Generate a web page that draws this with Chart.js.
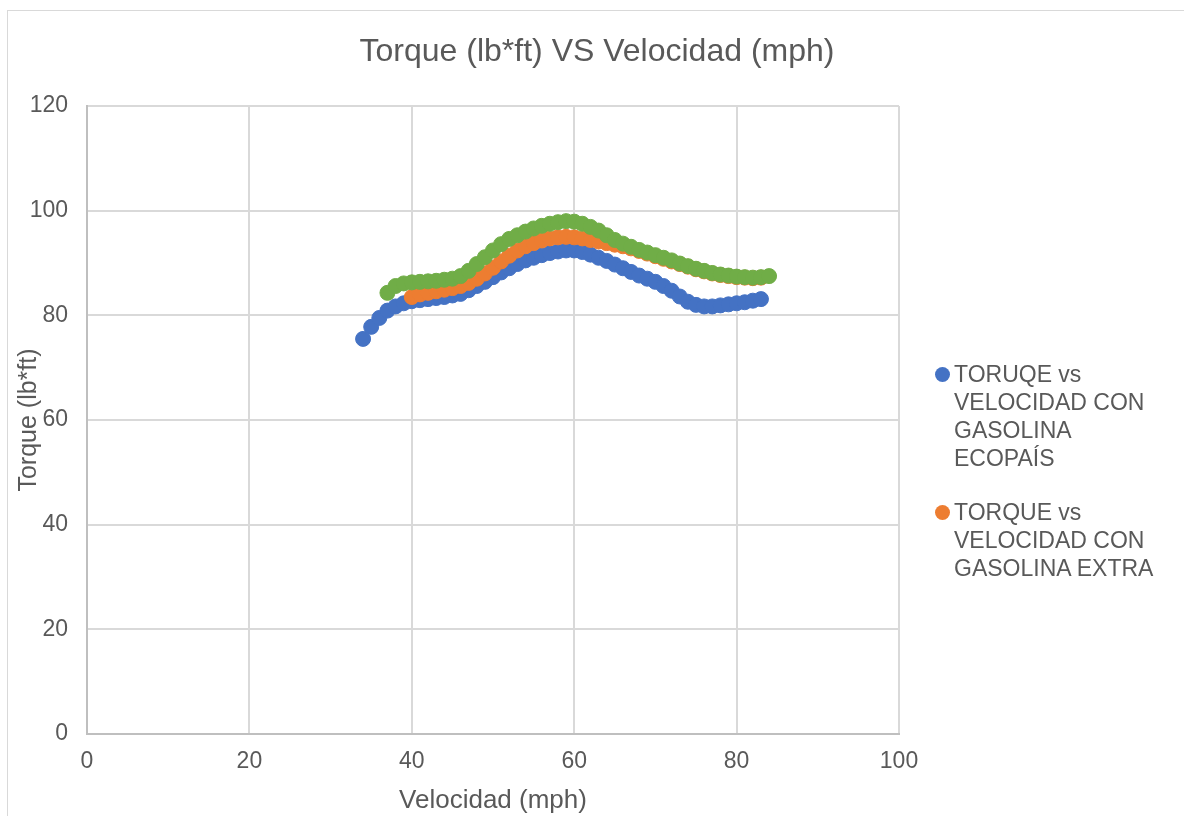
<!DOCTYPE html>
<html lang="es">
<head>
<meta charset="utf-8">
<title>Torque (lb*ft) VS Velocidad (mph)</title>
<script src="https://cdn.jsdelivr.net/npm/chart.js@4/dist/chart.umd.min.js"></script>
<style>
  html, body { margin: 0; padding: 0; background: #ffffff; }
  body { width: 1184px; height: 816px; position: relative; overflow: hidden; font-family: "Liberation Sans", Arial, sans-serif; }
  #frame { position: absolute; left: 7px; top: 10px; width: 1300px; height: 900px; border: 1px solid #d9d9d9; box-sizing: border-box; }
  #wrap { position: absolute; left: 0; top: 0; width: 1184px; height: 816px; }
  #legend { position: absolute; left: 935px; top: 360px; color: #595959; font-size: 23px; line-height: 28px; }
  .item { position: relative; padding-left: 19px; }
  .item + .item { margin-top: 26px; }
  .dot { position: absolute; left: 0; top: 7px; width: 15px; height: 15px; border-radius: 50%; }
</style>
</head>
<body>
<div id="frame"></div>
<div id="wrap"><canvas id="chart" width="1184" height="816"></canvas></div>
<div id="legend"></div>
<script>
// Velocidad (mph) and torque (lb*ft) per run
const ecopaisSpeed = [34,35,36,37,38,39,40,41,42,43,44,45,46,47,48,49,50,51,52,53,54,55,56,57,58,59,60,61,62,63,64,65,66,67,68,69,70,71,72,73,74,75,76,77,78,79,80,81,82,83];
const ecopaisTorque = [75.5,77.8,79.5,80.9,81.7,82.3,82.7,82.9,83.1,83.3,83.5,83.8,84.1,84.8,85.6,86.4,87.3,88.2,89.0,89.8,90.5,91.0,91.5,91.9,92.2,92.4,92.4,92.1,91.6,91.0,90.4,89.7,89.0,88.3,87.6,87.0,86.4,85.6,84.7,83.6,82.6,82.0,81.7,81.7,81.9,82.1,82.3,82.5,82.8,83.1];

const extraSpeed = [40,41,42,43,44,45,46,47,48,49,50,51,52,53,54,55,56,57,58,59,60,61,62,63,64,65,66,67,68,69,70,71,72,73,74,75,76,77,78,79,80,81,82,83];
const extraTorque = [83.5,84.0,84.3,84.6,84.9,85.2,85.6,86.2,87.0,88.0,89.1,90.3,91.4,92.4,93.2,93.8,94.3,94.7,94.9,95.0,94.9,94.7,94.4,94.1,93.8,93.5,93.2,92.8,92.3,91.8,91.3,90.8,90.3,89.8,89.3,88.8,88.4,88.0,87.7,87.5,87.3,87.2,87.1,87.2];

const thirdSpeed = [37,38,39,40,41,42,43,44,45,46,47,48,49,50,51,52,53,54,55,56,57,58,59,60,61,62,63,64,65,66,67,68,69,70,71,72,73,74,75,76,77,78,79,80,81,82,83,84];
const thirdTorque = [84.3,85.6,86.1,86.3,86.4,86.5,86.6,86.8,87.0,87.5,88.5,89.8,91.1,92.4,93.6,94.6,95.3,96.0,96.6,97.1,97.5,97.8,98.0,97.9,97.5,96.9,96.2,95.3,94.4,93.7,93.1,92.5,92.0,91.5,91.0,90.5,89.9,89.4,88.9,88.5,88.1,87.8,87.6,87.4,87.3,87.2,87.3,87.5];

// Axis ticks
const xTicks = [0, 20, 40, 60, 80, 100];
const yTicks = [0, 20, 40, 60, 80, 100, 120];

// Legend text, one array entry per printed line
const ecopaisLabel = ['TORUQE vs', 'VELOCIDAD CON', 'GASOLINA', 'ECOPAÍS'];
const extraLabel = ['TORQUE vs', 'VELOCIDAD CON', 'GASOLINA EXTRA'];

const BLUE = '#4472C4', ORANGE = '#ED7D31', GREEN = '#70AD47';
const TEXT = '#595959';
const FONT = '"Liberation Sans", Arial, sans-serif';

function pairs(xs, ys) { return xs.map((x, i) => ({ x: x, y: ys[i] })); }

function series(label, xs, ys, color, order) {
  return {
    label: label,
    data: pairs(xs, ys),
    showLine: false,
    pointRadius: 7.5,
    pointHoverRadius: 7.5,
    pointBackgroundColor: color,
    pointBorderColor: color,
    pointBorderWidth: 1,
    backgroundColor: color,
    borderColor: color,
    order: order
  };
}

const datasets = [
  series(ecopaisLabel.join(' '), ecopaisSpeed, ecopaisTorque, BLUE, 3),
  series(extraLabel.join(' '), extraSpeed, extraTorque, ORANGE, 2),
  series('Serie 3', thirdSpeed, thirdTorque, GREEN, 1)
];

new Chart(document.getElementById('chart'), {
  type: 'scatter',
  data: { datasets: datasets },
  options: {
    responsive: false,
    animation: false,
    events: [],
    layout: { padding: { top: 33, right: 0, bottom: 0, left: 10 } },
    plugins: {
      legend: { display: false },
      tooltip: { enabled: false },
      title: {
        display: true,
        text: 'Torque (lb*ft) VS Velocidad (mph)',
        color: TEXT,
        font: { family: FONT, size: 32, weight: 'normal', lineHeight: 1.2 },
        padding: { top: 0, bottom: 34.6 }
      }
    },
    scales: {
      x: {
        type: 'linear',
        min: xTicks[0],
        max: xTicks[xTicks.length - 1],
        afterFit: s => { s.height = 82; },
        afterBuildTicks: s => { s.ticks = xTicks.map(v => ({ value: v })); },
        ticks: { color: TEXT, padding: 14, font: { family: FONT, size: 23 } },
        grid: { color: '#d9d9d9', lineWidth: 2, drawTicks: false },
        border: { color: '#bfbfbf', width: 2 },
        title: {
          display: true,
          text: 'Velocidad (mph)',
          color: TEXT,
          font: { family: FONT, size: 26, lineHeight: 1.2 },
          padding: { top: 0, bottom: 0 }
        }
      },
      y: {
        type: 'linear',
        min: yTicks[0],
        max: yTicks[yTicks.length - 1],
        afterFit: s => { s.width = 77; },
        afterBuildTicks: s => { s.ticks = yTicks.map(v => ({ value: v })); },
        ticks: { color: TEXT, padding: 19, font: { family: FONT, size: 23 } },
        grid: { color: '#d9d9d9', lineWidth: 2, drawTicks: false },
        border: { color: '#bfbfbf', width: 2 },
        title: {
          display: true,
          text: 'Torque (lb*ft)',
          color: TEXT,
          font: { family: FONT, size: 25, lineHeight: 1.2 },
          padding: { top: 4, bottom: 0 }
        }
      },
      // empty strip on the right that holds the legend column
      side: {
        type: 'linear',
        position: 'right',
        display: true,
        afterFit: s => { s.width = 285; },
        ticks: { display: false },
        grid: { display: false, drawTicks: false },
        border: { display: false }
      }
    }
  }
});

// Legend beside the plot (the third run has no entry)
const legendEntries = [
  { lines: ecopaisLabel, color: BLUE },
  { lines: extraLabel, color: ORANGE }
];
const legendEl = document.getElementById('legend');
legendEntries.forEach(entry => {
  const item = document.createElement('div');
  item.className = 'item';
  const dot = document.createElement('span');
  dot.className = 'dot';
  dot.style.background = entry.color;
  item.appendChild(dot);
  entry.lines.forEach(line => {
    const row = document.createElement('div');
    row.textContent = line;
    item.appendChild(row);
  });
  legendEl.appendChild(item);
});
</script>
</body>
</html>
